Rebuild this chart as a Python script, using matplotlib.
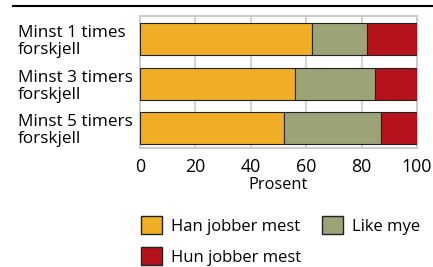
import matplotlib.pyplot as plt
from matplotlib.lines import Line2D
from matplotlib.patches import Patch

plt.rcParams['font.family'] = ['Open Sans', 'DejaVu Sans']

kategorier = ["Minst 1 times\nforskjell", "Minst 3 timers\nforskjell", "Minst 5 timers\nforskjell"]
han_mest = [62, 56, 52]
like_mye = [20, 29, 35]
hun_mest = [18, 15, 13]
serier = ["Han jobber mest", "Like mye", "Hun jobber mest"]
farger = ["#F0AE27", "#9CA377", "#B5121B"]

fig = plt.figure(figsize=(4.33, 2.67), dpi=100)
ax = fig.add_axes([0.323, 0.446, 0.64, 0.494])

ypos = list(range(len(kategorier)))
venstre = [0] * len(kategorier)
for verdier, farge in zip([han_mest, like_mye, hun_mest], farger):
    ax.barh(ypos, verdier, left=venstre, height=0.72, color=farge,
            edgecolor="#222222", linewidth=0.8, zorder=3)
    venstre = [a + b for a, b in zip(venstre, verdier)]

ax.set_xlim(0, 100)
ax.set_ylim(2.45, -0.52)
ax.set_xticks([0, 20, 40, 60, 80, 100])
ax.set_yticks(ypos)
ax.set_yticklabels(kategorier, fontsize=12.3, linespacing=1.1)
for lab in ax.get_yticklabels():
    lab.set_horizontalalignment("left")
ax.tick_params(axis="y", length=0, pad=88)
ax.tick_params(axis="x", length=0, pad=7, labelsize=12.8)
ax.grid(axis="x", color="#d4d4d4", linewidth=1.5, zorder=0)
for sp in ax.spines.values():
    sp.set_color("#cccccc")
    sp.set_linewidth(1.5)
ax.set_xlabel("Prosent", fontsize=11.8, labelpad=1)

fig.add_artist(Line2D([0.03, 1.0], [0.977, 0.977], color="black", linewidth=1.5))

handles = [Patch(facecolor=farger[0], edgecolor="#222222", label=serier[0]),
           Patch(facecolor=farger[2], edgecolor="#222222", label=serier[2]),
           Patch(facecolor=farger[1], edgecolor="#222222", label=serier[1])]
fig.legend(handles=handles, ncol=2, loc="upper left", bbox_to_anchor=(0.325, 0.19),
           frameon=False, fontsize=12, handlelength=1.25, handleheight=1.25,
           handletextpad=0.55, columnspacing=1.25, labelspacing=0.75, borderpad=0,
           borderaxespad=0)

fig.savefig("out.png", dpi=100)
